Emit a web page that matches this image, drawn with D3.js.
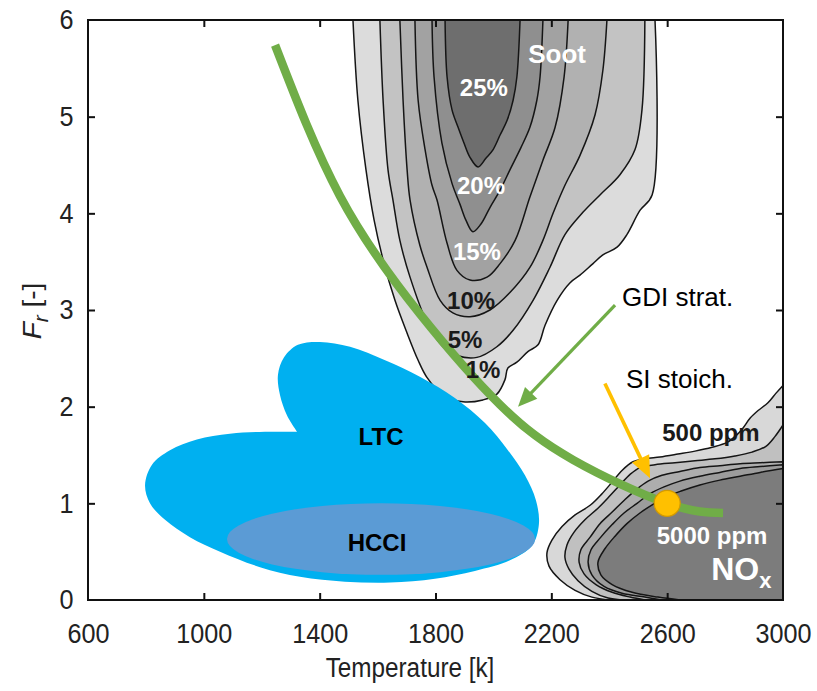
<!DOCTYPE html>
<html>
<head>
<meta charset="utf-8">
<script src="https://cdn.jsdelivr.net/npm/d3@7"></script>
<style>
  body { margin: 0; background: #fff; }
  svg text { font-family: "Liberation Sans", Arial, Helvetica, sans-serif; }
</style>
</head>
<body>
<svg id="chart" width="817" height="691"></svg>
<script>
// ---- Axes ----
const T_TICKS = [600, 1000, 1400, 1800, 2200, 2600, 3000];
const F_TICKS = [0, 1, 2, 3, 4, 5, 6];

// ---- Soot iso-yield contours [T (K), Fr], outermost first ----
const SOOT_LEVELS = ["1%", "5%", "10%", "15%", "20%", "25%"];
const SOOT_FILLS = ["#dcdcdc", "#c3c3c3", "#b1b1b1", "#a2a2a2", "#8f8f8f", "#6e6e6e"];
const soot1 = [[1515,6.0],[1532,5.17],[1560,4.45],[1588,3.93],[1619,3.52],[1660,3.10],[1702,2.76],[1740,2.48],[1771,2.30],[1826,2.12],[1895,2.05],[1964,2.07],[2012,2.13],[2040,2.28],[2050,2.40],[2081,2.46],[2119,2.57],[2154,2.64],[2178,2.84],[2220,3.10],[2264,3.28],[2299,3.36],[2344,3.48],[2378,3.57],[2427,3.65],[2461,3.78],[2506,4.03],[2548,4.19],[2558,6.0]];
const soot5 = [[1608,6.0],[1619,5.17],[1636,4.45],[1653,4.14],[1677,3.72],[1712,3.34],[1771,2.87],[1826,2.62],[1874,2.53],[1943,2.51],[2012,2.62],[2068,2.79],[2137,3.10],[2195,3.44],[2247,3.78],[2309,4.01],[2368,4.19],[2437,4.40],[2489,4.66],[2513,5.07],[2523,6.0]];
const soot10 = [[1677,6.0],[1688,5.17],[1702,4.45],[1712,4.14],[1746,3.67],[1771,3.44],[1816,3.10],[1860,2.97],[1919,2.93],[1988,3.00],[2057,3.18],[2126,3.44],[2171,3.72],[2206,4.00],[2247,4.29],[2299,4.60],[2351,5.02],[2378,5.48],[2392,6.0]];
const soot15 = [[1729,6.0],[1740,5.17],[1764,4.66],[1788,4.29],[1805,4.14],[1840,3.69],[1874,3.41],[1919,3.31],[1978,3.34],[2023,3.48],[2075,3.72],[2126,4.17],[2171,4.55],[2213,4.89],[2244,5.41],[2258,6.0]];
const soot20 = [[1788,6.0],[1795,5.41],[1822,4.73],[1857,4.31],[1885,4.09],[1905,3.93],[1929,3.81],[1957,3.89],[1988,4.06],[2023,4.24],[2057,4.45],[2095,4.68],[2126,4.89],[2150,5.17],[2161,5.41],[2171,6.0]];
const soot25 = [[1833,6.0],[1840,5.41],[1857,5.07],[1878,4.89],[1898,4.73],[1919,4.58],[1947,4.48],[1974,4.57],[1999,4.66],[2023,4.81],[2047,4.96],[2068,5.17],[2081,5.41],[2092,6.0]];
const SOOT_CONTOURS = [soot1, soot5, soot10, soot15, soot20, soot25];

// ---- NOx iso-concentration contours [T (K), Fr], outermost (500 ppm) first ----
const NOX_FILLS = ["#d8d8d8", "#c0c0c0", "#adadad", "#9c9c9c", "#7c7c7c"];
const nox500 = [[3000,2.22],[2976,2.14],[2948,2.04],[2914,1.96],[2886,1.88],[2862,1.78],[2838,1.70],[2807,1.63],[2755,1.58],[2696,1.54],[2637,1.51],[2575,1.48],[2523,1.46],[2482,1.43],[2444,1.34],[2410,1.22],[2375,1.10],[2334,0.98],[2282,0.88],[2237,0.76],[2202,0.62],[2185,0.49],[2192,0.35],[2230,0.21],[2282,0.10],[2340,0.03],[2403,0]];
const noxB = [[3000,1.81],[2972,1.69],[2941,1.59],[2893,1.53],[2834,1.49],[2765,1.46],[2696,1.44],[2627,1.42],[2558,1.40],[2506,1.37],[2472,1.30],[2437,1.19],[2403,1.08],[2361,0.95],[2316,0.83],[2278,0.70],[2254,0.57],[2247,0.44],[2261,0.32],[2292,0.20],[2340,0.09],[2396,0.02],[2444,0]];
const noxC = [[3000,1.43],[2921,1.42],[2852,1.41],[2782,1.39],[2713,1.37],[2644,1.33],[2582,1.29],[2534,1.23],[2492,1.14],[2451,1.03],[2410,0.91],[2368,0.79],[2334,0.65],[2302,0.52],[2296,0.39],[2313,0.27],[2354,0.16],[2410,0.08],[2472,0.03],[2523,0]];
const noxD = [[3000,1.40],[2921,1.38],[2852,1.36],[2782,1.32],[2713,1.28],[2644,1.23],[2589,1.17],[2541,1.10],[2496,1.00],[2451,0.90],[2410,0.78],[2368,0.64],[2337,0.52],[2327,0.39],[2340,0.26],[2382,0.14],[2444,0.07],[2523,0.03],[2582,0]];
const nox5000 = [[3000,1.36],[2921,1.32],[2852,1.28],[2782,1.24],[2713,1.19],[2651,1.13],[2599,1.07],[2551,0.99],[2506,0.90],[2461,0.79],[2420,0.66],[2385,0.53],[2361,0.39],[2371,0.26],[2410,0.16],[2479,0.08],[2568,0.03],[2644,0]];
const NOX_CONTOURS = [nox500, noxB, noxC, noxD, nox5000];

// ---- Combustion regimes ----
const LTC_REGION = [[1322,1.74],[1211,1.74],[1090,1.72],[976,1.66],[883,1.55],[821,1.40],[797,1.19],[814,1.00],[866,0.83],[952,0.65],[1056,0.50],[1194,0.34],[1332,0.24],[1487,0.19],[1643,0.18],[1798,0.22],[1936,0.30],[2057,0.41],[2133,0.56],[2157,0.78],[2147,1.03],[2109,1.29],[2050,1.55],[1971,1.83],[1867,2.09],[1746,2.31],[1626,2.48],[1505,2.62],[1401,2.67],[1325,2.64],[1277,2.51],[1256,2.33],[1263,2.12],[1287,1.91],[1322,1.74]];
// HCCI: ellipse centre [T, Fr] and half-widths [K, -]
const HCCI_CENTER = [1612, 0.63];
const HCCI_RADII = [532, 0.37];
const GDI_STRAT = [[1246,5.74],[1470,4.18],[1746,2.96],[2023,2.02],[2275,1.45],[2600,1.0],[2793,0.90]];
const SI_STOICH = [2600, 1.0];

// ---- Layout ----
const svg = d3.select("#chart");
const x = d3.scaleLinear().domain([600, 3000]).range([88, 783]);
const y = d3.scaleLinear().domain([0, 6]).range([600, 20]);
const FONT = "'Liberation Sans', Arial, sans-serif";

const plot = svg.append("g");

const contourLine = d3.line().x(d => x(d[0])).y(d => y(d[1])).curve(d3.curveCatmullRom.alpha(0.5));

// Soot contours: closed along the top edge (Fr = 6)
SOOT_CONTOURS.forEach((pts, i) => {
  plot.append("path")
    .attr("d", contourLine(pts) + "Z")
    .attr("fill", SOOT_FILLS[i])
    .attr("stroke", "#151515")
    .attr("stroke-width", 1.5)
    .attr("stroke-linejoin", "round");
});

// NOx contours: closed through the bottom-right corner
NOX_CONTOURS.forEach((pts, i) => {
  plot.append("path")
    .attr("d", contourLine(pts) + "L" + x(3000) + "," + y(0) + "Z")
    .attr("fill", NOX_FILLS[i])
    .attr("stroke", "#151515")
    .attr("stroke-width", 1.5)
    .attr("stroke-linejoin", "round");
});

// LTC region (sharp notch where the two lobes meet)
plot.append("path")
  .attr("d", contourLine(LTC_REGION) + "Z")
  .attr("fill", "#00b0f0");

// HCCI region
plot.append("ellipse")
  .attr("cx", x(HCCI_CENTER[0]))
  .attr("cy", y(HCCI_CENTER[1]))
  .attr("rx", x(HCCI_CENTER[0] + HCCI_RADII[0]) - x(HCCI_CENTER[0]))
  .attr("ry", y(HCCI_CENTER[1]) - y(HCCI_CENTER[1] + HCCI_RADII[1]))
  .attr("fill", "#5b9bd5");

// GDI stratified operating line
plot.append("path")
  .attr("d", d3.line().x(d => x(d[0])).y(d => y(d[1])).curve(d3.curveNatural)(GDI_STRAT))
  .attr("fill", "none")
  .attr("stroke", "#70ad47")
  .attr("stroke-width", 8.5);

// SI stoichiometric point
plot.append("circle")
  .attr("cx", x(SI_STOICH[0])).attr("cy", y(SI_STOICH[1])).attr("r", 13)
  .attr("fill", "#ffc000").attr("stroke", "#d39a00").attr("stroke-width", 1.2);

// ---- Frame and ticks ----
const frame = svg.append("g");
frame.append("rect")
  .attr("x", 88).attr("y", 20).attr("width", 695).attr("height", 580)
  .attr("fill", "none").attr("stroke", "#111").attr("stroke-width", 2);

function ticks(axis, transform) {
  const g = frame.append("g").attr("transform", transform).call(axis);
  g.select(".domain").remove();
  g.selectAll(".tick line").attr("stroke", "#111").attr("stroke-width", 2);
  return g;
}
const inner = T_TICKS.slice(1, -1);
const innerF = F_TICKS.slice(1, -1);

const gx = ticks(d3.axisBottom(x).tickValues(T_TICKS).tickSizeInner(-7).tickSizeOuter(0).tickPadding(23).tickFormat(d3.format("d")), "translate(0,600)");
gx.selectAll(".tick line").filter(d => !inner.includes(d)).remove();
gx.selectAll("text").attr("font-size", 28).attr("fill", "#222").attr("font-family", FONT)
  .attr("transform", "scale(0.9,1)");

const gy = ticks(d3.axisLeft(y).tickValues(F_TICKS).tickSizeInner(-7).tickSizeOuter(0).tickPadding(15).tickFormat(d3.format("d")), "translate(88,0)");
gy.selectAll(".tick line").filter(d => !innerF.includes(d)).remove();
gy.selectAll("text").attr("font-size", 28).attr("fill", "#222").attr("font-family", FONT)
  .attr("x", -16).attr("transform", "scale(0.9,1)");

ticks(d3.axisTop(x).tickValues(inner).tickSizeInner(-7).tickSizeOuter(0).tickFormat(""), "translate(0,20)");
ticks(d3.axisRight(y).tickValues(innerF).tickSizeInner(-7).tickSizeOuter(0).tickFormat(""), "translate(783,0)");

// Axis titles
svg.append("text")
  .attr("transform", "translate(410,677) scale(0.9,1)")
  .attr("text-anchor", "middle")
  .attr("font-size", 27).attr("fill", "#222")
  .text("Temperature [k]");

const yt = svg.append("text")
  .attr("transform", "translate(41,311) rotate(-90) scale(1,0.95)")
  .attr("text-anchor", "middle")
  .attr("font-size", 28).attr("fill", "#222");
yt.append("tspan").attr("font-style", "italic").text("F");
yt.append("tspan").attr("font-style", "italic").attr("font-size", 21).attr("dy", 7).text("r");
yt.append("tspan").attr("dy", -7).text(" [-]");

// ---- Arrows ----
function arrow(from, to, color, lw, headLen, headW) {
  const p0 = [x(from[0]), y(from[1])], p1 = [x(to[0]), y(to[1])];
  const dx = p1[0] - p0[0], dy = p1[1] - p0[1], len = Math.hypot(dx, dy);
  const u = [dx / len, dy / len], n = [-u[1], u[0]];
  const b = [p1[0] - u[0] * headLen, p1[1] - u[1] * headLen];
  svg.append("line")
    .attr("x1", p0[0]).attr("y1", p0[1])
    .attr("x2", b[0] + u[0] * 2).attr("y2", b[1] + u[1] * 2)
    .attr("stroke", color).attr("stroke-width", lw);
  svg.append("polygon")
    .attr("points", [p1, [b[0] + n[0] * headW / 2, b[1] + n[1] * headW / 2], [b[0] - n[0] * headW / 2, b[1] - n[1] * headW / 2]].map(p => p.join(",")).join(" "))
    .attr("fill", color);
}
arrow([2420, 3.05], [2085, 2.0], "#70ad47", 3.2, 19, 17);
arrow([2385, 2.24], [2541, 1.26], "#ffc000", 3.6, 22, 19);

// ---- Labels ----
function label(t, f, txt, opts) {
  return svg.append("text")
    .attr("x", x(t)).attr("y", y(f))
    .attr("text-anchor", opts.anchor || "middle")
    .attr("dominant-baseline", "central")
    .attr("font-size", opts.size)
    .attr("font-weight", opts.weight || "normal")
    .attr("fill", opts.color || "#000")
    .text(txt);
}
const SOOT_LABEL_POS = [[1964, 2.38], [1902, 2.70], [1923, 3.10], [1943, 3.61], [1957, 4.29], [1967, 5.30]];
SOOT_LEVELS.forEach((lv, i) => {
  label(SOOT_LABEL_POS[i][0], SOOT_LABEL_POS[i][1], lv,
    { size: 24, weight: "bold", color: i >= 3 ? "#fff" : "#1a1a1a" });
});
label(2220, 5.65, "Soot", { size: 26, weight: "bold", color: "#fff" });
label(2751, 1.73, "500 ppm", { size: 24, weight: "bold", color: "#1a1a1a" });
label(2755, 0.67, "5000 ppm", { size: 24, weight: "bold", color: "#fff" });
const nox = svg.append("text")
  .attr("x", x(2752)).attr("y", y(0.21))
  .attr("font-size", 32).attr("font-weight", "bold").attr("fill", "#fff");
nox.append("tspan").text("NO");
nox.append("tspan").attr("font-size", 22).attr("dy", 8).text("x");

label(1612, 1.69, "LTC", { size: 24, weight: "bold", color: "#000" });
label(1598, 0.59, "HCCI", { size: 24, weight: "bold", color: "#000" });
label(2444, 3.13, "GDI strat.", { size: 26, anchor: "start", color: "#000" });
label(2458, 2.29, "SI stoich.", { size: 26, anchor: "start", color: "#000" });
</script>
</body>
</html>
